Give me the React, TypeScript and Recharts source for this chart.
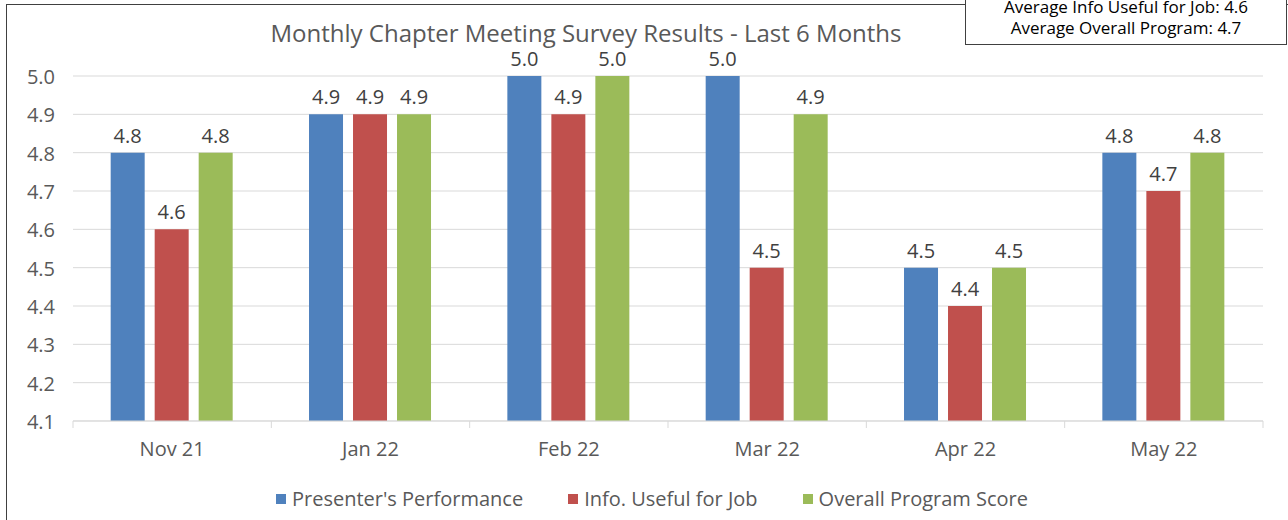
import { BarChart, Bar, XAxis, YAxis, CartesianGrid, Legend, LabelList } from 'recharts'

const months = ['Nov 21', 'Jan 22', 'Feb 22', 'Mar 22', 'Apr 22', 'May 22']
const presenter = [4.8, 4.9, 5.0, 5.0, 4.5, 4.8]
const infoUseful = [4.6, 4.9, 4.9, 4.5, 4.4, 4.7]
const overall = [4.8, 4.9, 5.0, 4.9, 4.5, 4.8]
const yTicks = [4.1, 4.2, 4.3, 4.4, 4.5, 4.6, 4.7, 4.8, 4.9, 5.0]
const summaryLines = ['Average Info Useful for Job: 4.6', 'Average Overall Program: 4.7']

const series = [
  { key: 'presenter', name: "Presenter's Performance", color: '#4F81BD' },
  { key: 'info', name: 'Info. Useful for Job', color: '#C0504D' },
  { key: 'overall', name: 'Overall Program Score', color: '#9BBB59' },
]

const FONT = '"Open Sans", Calibri, sans-serif'
const TEXT = '#595959'
const GRID = '#d9d9d9'

const data = months.map((m, i) => ({
  month: m,
  presenter: presenter[i],
  info: infoUseful[i],
  overall: overall[i],
}))

interface TickProps {
  x?: number
  y?: number
  payload?: { value: string; offset: number; index: number }
}

function MonthTick({ x = 0, y = 0, payload }: TickProps) {
  if (!payload) return null
  const off = payload.offset
  const last = payload.index === months.length - 1
  return (
    <g>
      <line x1={x - off} x2={x - off} y1={y} y2={y + 7} stroke={GRID} />
      {last && <line x1={x + off} x2={x + off} y1={y} y2={y + 7} stroke={GRID} />}
      <text x={x} y={y + 35} textAnchor="middle" fill={TEXT} fontSize={20} fontFamily={FONT}>
        {payload.value}
      </text>
    </g>
  )
}

function LegendContent() {
  return (
    <div style={{ display: 'flex', justifyContent: 'center', gap: 45, fontFamily: FONT, fontSize: 20, color: TEXT }}>
      {series.map((s) => (
        <div key={s.key} style={{ display: 'flex', alignItems: 'center' }}>
          <span style={{ width: 10, height: 10, background: s.color, marginRight: 6, display: 'inline-block' }} />
          <span>{s.name}</span>
        </div>
      ))}
    </div>
  )
}

const labelFmt = (v: unknown) => Number(v).toFixed(1)

export default function App() {
  return (
    <div style={{ position: 'absolute', left: 0, top: 0, width: 1288, height: 520, background: '#fff', overflow: 'hidden' }}>
      <div style={{ position: 'absolute', left: 6, top: 4, width: 1300, height: 600, border: '1px solid #404040', boxSizing: 'border-box' }} />
      <div
        style={{
          position: 'absolute', left: 0, top: 0, width: 1172, textAlign: 'center',
          fontFamily: FONT, fontSize: 24, color: TEXT, lineHeight: '24px', paddingTop: 21,
        }}
      >
        Monthly Chapter Meeting Survey Results - Last 6 Months
      </div>
      <BarChart
        width={1288}
        height={520}
        data={data}
        margin={{ top: 76, right: 25, bottom: 0, left: 0 }}
        barGap={10}
        barCategoryGap="19%"
      >
        <CartesianGrid vertical={false} stroke={GRID} />
        <XAxis
          dataKey="month"
          tickLine={false}
          tickSize={0}
          tickMargin={0}
          axisLine={{ stroke: GRID }}
          tick={<MonthTick />}
          interval={0}
          height={72}
        />
        <YAxis
          domain={[4.1, 5.0]}
          ticks={yTicks}
          interval={0}
          tickFormatter={labelFmt}
          axisLine={false}
          tickLine={false}
          tickMargin={12}
          width={73}
          tick={{ fill: TEXT, fontSize: 20, fontFamily: FONT, dy: 1 }}
        />
        <Legend content={<LegendContent />} wrapperStyle={{ position: 'absolute', top: 485, left: 8, width: 1288 }} />
        {series.map((s) => (
          <Bar key={s.key} dataKey={s.key} name={s.name} fill={s.color} isAnimationActive={false}>
            <LabelList dataKey={s.key} position="top" offset={10} formatter={labelFmt} fill="#404040" fontSize={20} fontFamily={FONT} />
          </Bar>
        ))}
      </BarChart>
      <div
        style={{
          position: 'absolute', left: 965, top: -14, width: 322, height: 59, border: '1px solid #404040',
          boxSizing: 'border-box', background: '#fff', textAlign: 'center', fontFamily: FONT, fontSize: 17,
          color: '#000', lineHeight: '21px', paddingTop: 9,
        }}
      >
        {summaryLines.map((l) => (
          <div key={l}>{l}</div>
        ))}
      </div>
    </div>
  )
}
